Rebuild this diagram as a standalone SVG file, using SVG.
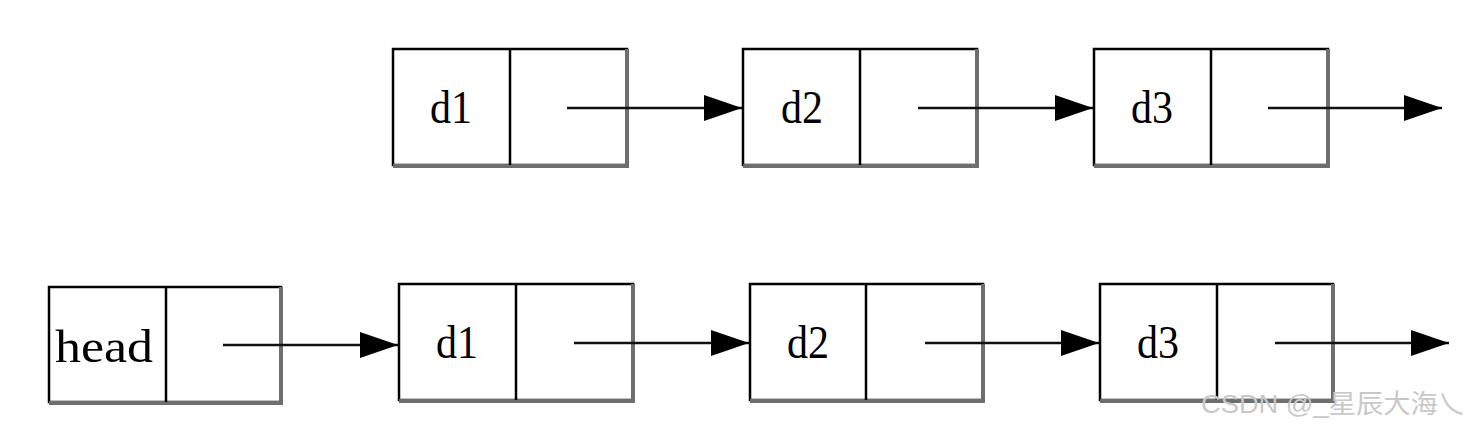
<svg xmlns="http://www.w3.org/2000/svg" width="1470" height="427" viewBox="0 0 1470 427">
<defs>
<style>
.box{fill:#fff;stroke:#000;stroke-width:2.5}
.sh{stroke:#6e6e6e;stroke-width:4;fill:none}
.div{stroke:#000;stroke-width:2.5}
.lbl{font-family:"Liberation Serif",serif;font-size:46px;fill:#000;text-anchor:middle}
.wire{stroke:#111;stroke-width:2.5;fill:none}
.wm{font-family:"Liberation Sans","Noto Sans CJK SC",sans-serif;font-size:26px;fill:#c8c8c8}
</style>
<marker id="ah" markerWidth="38" markerHeight="26" refX="38" refY="13" markerUnits="userSpaceOnUse" orient="auto">
<path d="M0,0 L38,13 L0,26 Z" fill="#000"/>
</marker>
</defs>
<rect width="1470" height="427" fill="#fff"/>

<g id="t1">
<rect class="box" x="393" y="49" width="234" height="116"/>
<path class="sh" d="M627,49 V166 H393"/>
<line class="div" x1="510" y1="49" x2="510" y2="165"/>
<text class="lbl" x="451" y="123" textLength="42" lengthAdjust="spacingAndGlyphs">d1</text>
</g>
<g id="t2">
<rect class="box" x="743" y="49" width="234" height="116"/>
<path class="sh" d="M977,49 V166 H743"/>
<line class="div" x1="860" y1="49" x2="860" y2="165"/>
<text class="lbl" x="802" y="123" textLength="42" lengthAdjust="spacingAndGlyphs">d2</text>
</g>
<g id="t3">
<rect class="box" x="1094" y="49" width="234" height="116"/>
<path class="sh" d="M1328,49 V166 H1094"/>
<line class="div" x1="1211" y1="49" x2="1211" y2="165"/>
<text class="lbl" x="1152" y="123" textLength="42" lengthAdjust="spacingAndGlyphs">d3</text>
</g>

<g id="head">
<rect class="box" x="49" y="287" width="232" height="115"/>
<path class="sh" d="M281,287 V403 H49"/>
<line class="div" x1="166" y1="287" x2="166" y2="402"/>
<text class="lbl" x="104" y="362" textLength="98" lengthAdjust="spacingAndGlyphs">head</text>
</g>
<g id="b1">
<rect class="box" x="399" y="284" width="234" height="116"/>
<path class="sh" d="M633,284 V401 H399"/>
<line class="div" x1="516" y1="284" x2="516" y2="400"/>
<text class="lbl" x="457" y="358" textLength="42" lengthAdjust="spacingAndGlyphs">d1</text>
</g>
<g id="b2">
<rect class="box" x="750" y="284" width="233" height="116"/>
<path class="sh" d="M983,284 V401 H750"/>
<line class="div" x1="866" y1="284" x2="866" y2="400"/>
<text class="lbl" x="808" y="358" textLength="42" lengthAdjust="spacingAndGlyphs">d2</text>
</g>
<g id="b3">
<rect class="box" x="1100" y="284" width="233" height="116"/>
<path class="sh" d="M1333,284 V401 H1100"/>
<line class="div" x1="1217" y1="284" x2="1217" y2="400"/>
<text class="lbl" x="1158" y="358" textLength="42" lengthAdjust="spacingAndGlyphs">d3</text>
</g>

<g id="connectors">
<line class="wire" x1="567" y1="108" x2="742" y2="108" marker-end="url(#ah)"/>
<line class="wire" x1="918" y1="108" x2="1093" y2="108" marker-end="url(#ah)"/>
<line class="wire" x1="1268" y1="108" x2="1442" y2="108" marker-end="url(#ah)"/>
<line class="wire" x1="223" y1="345" x2="398" y2="345" marker-end="url(#ah)"/>
<line class="wire" x1="574" y1="343" x2="749" y2="343" marker-end="url(#ah)"/>
<line class="wire" x1="925" y1="343" x2="1099" y2="343" marker-end="url(#ah)"/>
<line class="wire" x1="1275" y1="343" x2="1449" y2="343" marker-end="url(#ah)"/>
</g>

<text class="wm" x="1201" y="413" textLength="264" lengthAdjust="spacingAndGlyphs">CSDN @_星辰大海乀</text>
</svg>
